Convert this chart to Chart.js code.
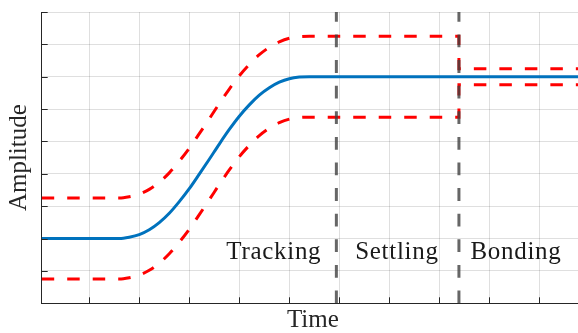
<!DOCTYPE html>
<html>
<head>
<meta charset="utf-8">
<script src="https://cdn.jsdelivr.net/npm/chart.js@4/dist/chart.umd.min.js"></script>
<style>
  html, body { margin: 0; padding: 0; background: #fff; overflow: hidden; }
  #chart { display: block; }
</style>
</head>
<body>
<canvas id="chart" width="584" height="333" style="width:584px;height:333px"></canvas>
<script>
// reference trajectory (blue) sampled along the time axis
const timeSamples = [0.05, 1.4, 1.6, 1.8, 2.0, 2.2, 2.4, 2.6, 2.8, 3.0, 3.2, 3.4, 3.6, 3.8, 4.0, 4.2, 4.4, 4.6, 4.8, 5.0, 5.2, 5.4, 10.89];
const reference = [2.0, 2.0, 2.0, 2.04, 2.12, 2.27, 2.49, 2.78, 3.14, 3.54, 3.99, 4.45, 4.92, 5.37, 5.78, 6.13, 6.43, 6.66, 6.83, 6.94, 6.99, 7.0, 7.0];

// tolerance band (red dashed), narrows at the start of bonding
const boundTime = [0.05, 1.4, 1.6, 1.8, 2.0, 2.2, 2.4, 2.6, 2.8, 3.0, 3.2, 3.4, 3.6, 3.8, 4.0, 4.2, 4.4, 4.6, 4.8, 5.0, 5.2, 5.4, 8.39, 8.39, 10.89];
const upperBound = [3.25, 3.25, 3.25, 3.29, 3.37, 3.52, 3.74, 4.03, 4.39, 4.79, 5.24, 5.70, 6.17, 6.62, 7.03, 7.38, 7.68, 7.91, 8.08, 8.19, 8.24, 8.25, 8.25, 7.25, 7.25];
const lowerBound = [0.75, 0.75, 0.75, 0.79, 0.87, 1.02, 1.24, 1.53, 1.89, 2.29, 2.74, 3.20, 3.67, 4.12, 4.53, 4.88, 5.18, 5.41, 5.58, 5.69, 5.74, 5.75, 5.75, 6.75, 6.75];

// phase boundaries and names
const phaseEdges = [5.94, 8.39];
const phaseNames = ["Tracking", "Settling", "Bonding"];
const phaseLabelX = [4.69, 7.15, 9.53];
const phaseLabelY = 1.37;

// grid ticks (no tick labels shown)
const xTicks = [1, 2, 3, 4, 5, 6, 7, 8, 9, 10];
const yTicks = [0, 1, 2, 3, 4, 5, 6, 7, 8, 9];

const AXIS_COLOR = "#262626";
const SERIF = "'Liberation Serif', 'DejaVu Serif', serif";

function toPoints(xs, ys) {
    return xs.map((x, i) => ({ x: x, y: ys[i] }));
}

// MATLAB-style ticks pointing into the plot area
const innerTicks = {
    id: "innerTicks",
    afterDatasetsDraw(chart) {
        const { ctx, chartArea, scales } = chart;
        ctx.save();
        ctx.strokeStyle = AXIS_COLOR;
        ctx.lineWidth = 1;
        ctx.beginPath();
        xTicks.forEach((v) => {
            const px = Math.round(scales.x.getPixelForValue(v)) + 0.5;
            ctx.moveTo(px, chartArea.bottom);
            ctx.lineTo(px, chartArea.bottom - 6);
        });
        yTicks.forEach((v) => {
            const py = Math.round(scales.y.getPixelForValue(v)) + 0.5;
            ctx.moveTo(chartArea.left, py);
            ctx.lineTo(chartArea.left + 6, py);
        });
        ctx.stroke();
        ctx.restore();
    },
};

// phase names written inside the plot
const phaseLabels = {
    id: "phaseLabels",
    afterDatasetsDraw(chart) {
        const { ctx, scales } = chart;
        ctx.save();
        ctx.font = "25px " + SERIF;
        ctx.letterSpacing = "0.7px";
        ctx.fillStyle = "#1a1a1a";
        ctx.textAlign = "center";
        ctx.textBaseline = "alphabetic";
        const py = scales.y.getPixelForValue(phaseLabelY);
        phaseNames.forEach((name, i) => {
            ctx.fillText(name, scales.x.getPixelForValue(phaseLabelX[i]), py);
        });
        ctx.restore();
    },
};

const phaseLines = phaseEdges.map((t) => ({
    data: [{ x: t, y: 0 }, { x: t, y: 9 }],
    borderColor: "rgba(64,64,64,0.8)",
    borderWidth: 3,
    borderDash: [12.8, 12.8],
    order: 0,
}));

new Chart(document.getElementById("chart"), {
    type: "line",
    data: {
        datasets: [
            ...phaseLines,
            {
                data: toPoints(timeSamples, reference),
                borderColor: "#0072BD",
                borderWidth: 3,
                cubicInterpolationMode: "monotone",
                order: 1,
            },
            {
                data: toPoints(boundTime, upperBound),
                borderColor: "#ff0000",
                borderWidth: 3,
                borderDash: [12.5, 13],
                cubicInterpolationMode: "monotone",
                order: 2,
            },
            {
                data: toPoints(boundTime, lowerBound),
                borderColor: "#ff0000",
                borderWidth: 3,
                borderDash: [12.5, 13],
                cubicInterpolationMode: "monotone",
                order: 2,
            },
        ],
    },
    options: {
        responsive: false,
        animation: false,
        devicePixelRatio: 1,
        layout: { padding: { top: 12, right: 0, bottom: 0, left: 0 } },
        elements: { point: { radius: 0 } },
        plugins: { legend: { display: false }, tooltip: { enabled: false } },
        scales: {
            x: {
                type: "linear",
                min: 0.05,
                max: 10.89,
                afterBuildTicks: (scale) => {
                    scale.ticks = xTicks.map((v) => ({ value: v }));
                },
                ticks: { display: false },
                grid: { color: "rgba(38,38,38,0.15)", drawTicks: false },
                border: { display: true, color: AXIS_COLOR, width: 1 },
                title: {
                    display: true,
                    text: "Time",
                    color: AXIS_COLOR,
                    font: { family: SERIF, size: 25, lineHeight: 1 },
                    padding: { top: 4.7, bottom: 0 },
                },
            },
            y: {
                type: "linear",
                min: 0,
                max: 9,
                afterBuildTicks: (scale) => {
                    scale.ticks = yTicks.map((v) => ({ value: v }));
                },
                ticks: { display: false },
                grid: { color: "rgba(38,38,38,0.15)", drawTicks: false },
                border: { display: true, color: AXIS_COLOR, width: 1 },
                title: {
                    display: true,
                    text: "Amplitude",
                    color: AXIS_COLOR,
                    font: { family: SERIF, size: 25, lineHeight: 1 },
                    padding: { top: 6.5, bottom: 10.2 },
                },
            },
        },
    },
    plugins: [innerTicks, phaseLabels],
});
</script>
</body>
</html>
